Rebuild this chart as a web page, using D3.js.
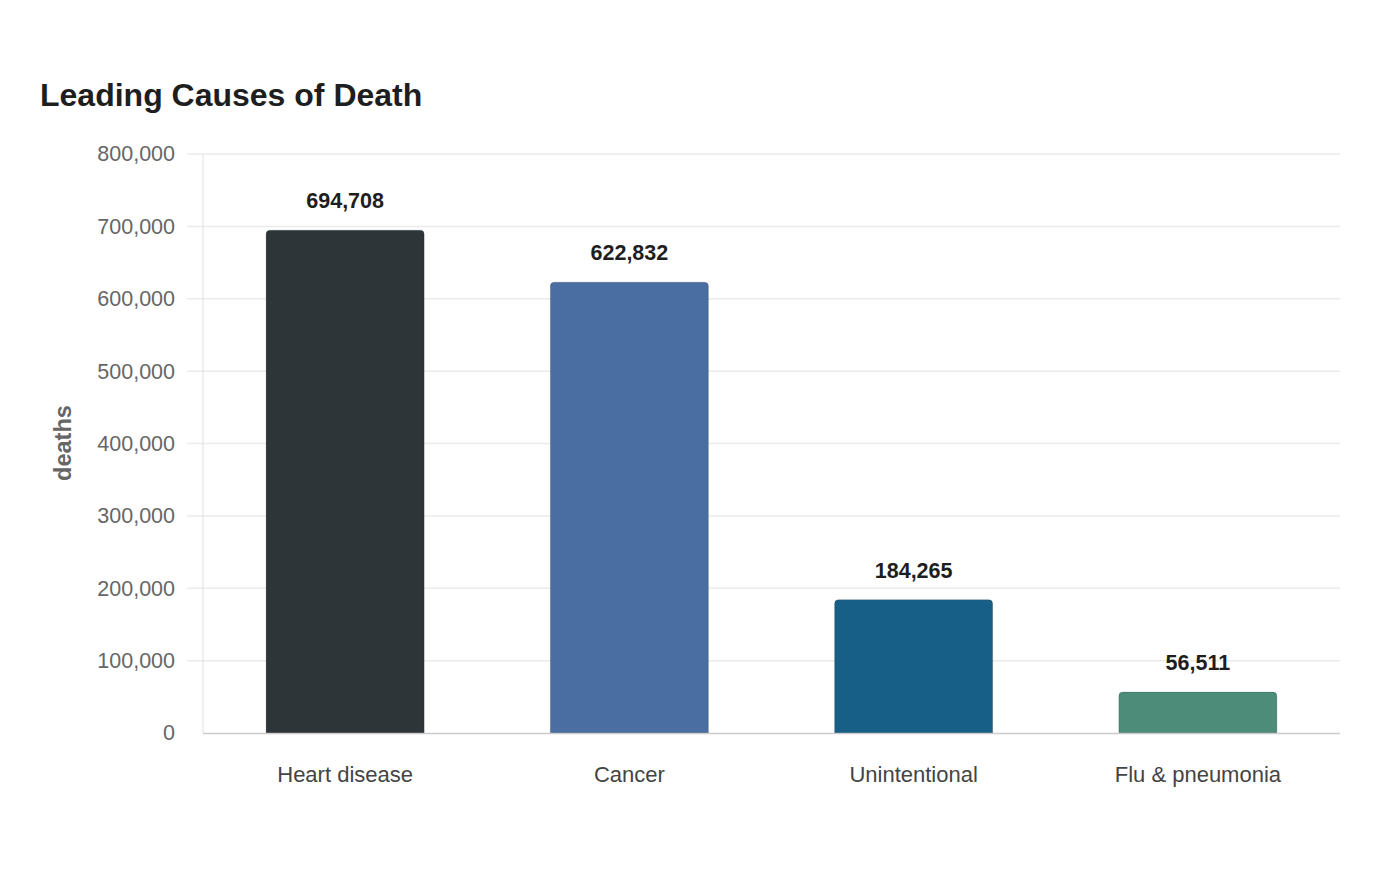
<!DOCTYPE html>
<html><head><meta charset="utf-8">
<script src="https://cdn.jsdelivr.net/npm/d3@7"></script>
<style>
html,body{margin:0;padding:0;background:#fff;}
svg{display:block;font-family:"Liberation Sans",Arial,sans-serif;}
</style></head>
<body><svg id="c" width="1400" height="880"></svg>
<script>
const categories = ["Heart disease", "Cancer", "Unintentional", "Flu & pneumonia"];
const deaths = [694708, 622832, 184265, 56511];
const barColors = ["#2d3538", "#4a6ea2", "#185f87", "#4e8c7a"];
const yTicks = [0, 100000, 200000, 300000, 400000, 500000, 600000, 700000, 800000];

const svg = d3.select("#c");
const L = 203, R = 1340, T = 154, B = 733;
const x = d3.scaleBand().domain(categories).range([L, R]).paddingInner(0.444).paddingOuter(0.222);
const y = d3.scaleLinear().domain([0, 800000]).range([B, T]);
const fmt = d3.format(",");

svg.append("text").attr("x", 40).attr("y", 106).text("Leading Causes of Death")
  .attr("font-size", 32).attr("font-weight", "bold").attr("fill", "#1e1e1e");

// grid
svg.append("g").selectAll("line").data(yTicks.filter(d => d > 0)).join("line")
  .attr("x1", 187).attr("x2", R).attr("y1", d => y(d)).attr("y2", d => y(d))
  .attr("stroke", "#ebebeb").attr("stroke-width", 1.5);
// y axis line
svg.append("line").attr("x1", L).attr("x2", L).attr("y1", T).attr("y2", B)
  .attr("stroke", "#e0e0e0").attr("stroke-width", 1);

const yAxis = d3.axisLeft(y).tickValues(yTicks).tickFormat(fmt).tickSize(0).tickPadding(28);
const gy = svg.append("g").attr("transform", `translate(${L},0)`).call(yAxis);
gy.select(".domain").remove();
gy.selectAll("text").attr("font-size", 21.5).attr("fill", "#666").attr("font-family", "Liberation Sans, Arial, sans-serif");

svg.append("text").attr("transform", `translate(71,443) rotate(-90)`).attr("text-anchor", "middle")
  .text("deaths").attr("font-size", 23.5).attr("font-weight", "bold").attr("fill", "#666");

// bars with top rounded corners
const r = 4;
function barPath(x0, w, yTop, yBot) {
  return `M${x0},${yBot}V${yTop + r}Q${x0},${yTop} ${x0 + r},${yTop}H${x0 + w - r}Q${x0 + w},${yTop} ${x0 + w},${yTop + r}V${yBot}Z`;
}
svg.append("g").selectAll("path").data(categories).join("path")
  .attr("d", (c, i) => barPath(x(c), x.bandwidth(), y(deaths[i]), y(0)))
  .attr("fill", (c, i) => barColors[i])
  .attr("stroke", "rgba(0,0,0,0.15)").attr("stroke-width", 1);

// baseline
svg.append("line").attr("x1", L).attr("x2", R).attr("y1", B + 0.5).attr("y2", B + 0.5)
  .attr("stroke", "#cccccc").attr("stroke-width", 1.5);

// value labels
svg.append("g").selectAll("text").data(categories).join("text")
  .attr("x", c => x(c) + x.bandwidth() / 2).attr("y", (c, i) => y(deaths[i]) - 22)
  .attr("text-anchor", "middle").text((c, i) => fmt(deaths[i]))
  .attr("font-size", 21.5).attr("font-weight", "bold").attr("fill", "#1e1e1e");

// category axis
const xAxis = d3.axisBottom(x).tickSize(0).tickPadding(33);
const gx = svg.append("g").attr("transform", `translate(0,${B})`).call(xAxis);
gx.select(".domain").remove();
gx.selectAll("text").attr("font-size", 22).attr("fill", "#444").attr("font-family", "Liberation Sans, Arial, sans-serif");
</script></body></html>
